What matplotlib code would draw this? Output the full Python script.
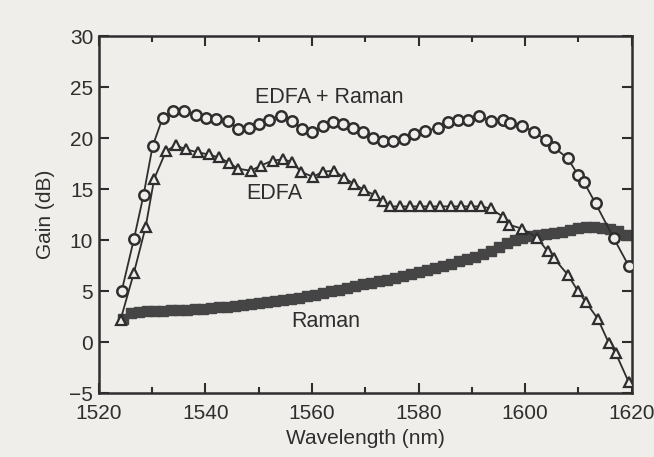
import matplotlib.pyplot as plt
import numpy as np

# EDFA + Raman (open circles)
wl_combined = [1524.3, 1526.6, 1528.4, 1530.1, 1532.0, 1533.9, 1535.9, 1538.2, 1540.1, 1542.0,
               1544.2, 1546.1, 1548.1, 1550.0, 1551.9, 1554.1, 1556.2, 1558.2, 1560.1, 1562.0,
               1563.9, 1565.8, 1567.7, 1569.5, 1571.4, 1573.3, 1575.2, 1577.2, 1579.1, 1581.3,
               1583.6, 1585.5, 1587.4, 1589.2, 1591.3, 1593.5, 1595.8, 1597.2, 1599.5, 1601.6,
               1603.9, 1605.4, 1608.0, 1609.9, 1611.0, 1613.2, 1616.6, 1619.4]
gain_combined = [5.0, 10.1, 14.4, 19.2, 22.0, 22.7, 22.7, 22.3, 22.0, 21.9,
                 21.7, 20.9, 21.0, 21.4, 21.8, 22.2, 21.7, 20.9, 20.6, 21.2,
                 21.6, 21.4, 21.0, 20.6, 20.0, 19.7, 19.7, 19.9, 20.4, 20.7,
                 21.0, 21.6, 21.8, 21.8, 22.2, 21.7, 21.8, 21.5, 21.2, 20.6,
                 19.8, 19.1, 18.0, 16.4, 15.7, 13.6, 10.2, 7.5]

# EDFA (open triangles)
wl_edfa = [1524.1, 1526.6, 1528.8, 1530.4, 1532.6, 1534.4, 1536.3, 1538.6, 1540.6, 1542.5,
           1544.4, 1546.1, 1548.5, 1550.4, 1552.6, 1554.5, 1556.2, 1557.9, 1560.2, 1562.0,
           1564.1, 1566.1, 1567.9, 1569.8, 1571.8, 1573.4, 1574.6, 1576.5, 1578.4, 1580.3,
           1582.2, 1584.1, 1586.0, 1587.9, 1589.8, 1591.7, 1593.5, 1595.8, 1597.0, 1599.5,
           1602.3, 1604.2, 1605.4, 1608.0, 1609.9, 1611.4, 1613.6, 1615.7, 1617.0, 1619.4]
gain_edfa = [2.2, 6.8, 11.3, 16.0, 18.7, 19.3, 18.9, 18.6, 18.4, 18.1,
             17.6, 17.0, 16.8, 17.3, 17.8, 17.9, 17.7, 16.7, 16.2, 16.7,
             16.8, 16.1, 15.5, 14.9, 14.4, 13.8, 13.3, 13.3, 13.3, 13.3,
             13.3, 13.3, 13.3, 13.3, 13.3, 13.3, 13.1, 12.3, 11.5, 11.1,
             10.2, 8.9, 8.2, 6.6, 5.0, 3.9, 2.3, -0.1, -1.1, -3.9]

# Raman (filled squares)
wl_raman = [1524.5, 1526, 1527.5, 1529, 1530.5, 1532, 1533.5, 1535, 1536.5, 1538,
            1539.5, 1541, 1542.5, 1544, 1545.5, 1547, 1548.5, 1550, 1551.5, 1553,
            1554.5, 1556, 1557.5, 1559, 1560.5, 1562, 1563.5, 1565, 1566.5, 1568,
            1569.5, 1571, 1572.5, 1574, 1575.5, 1577, 1578.5, 1580, 1581.5, 1583,
            1584.5, 1586, 1587.5, 1589, 1590.5, 1592, 1593.5, 1595, 1596.5, 1598,
            1599.5, 1601, 1602.5, 1604, 1605.5, 1607, 1608.5, 1610, 1611.5, 1613,
            1614.5, 1616, 1617.5, 1619]
gain_raman = [2.3, 2.8, 2.9, 3.0, 3.0, 3.0, 3.1, 3.1, 3.1, 3.2,
              3.2, 3.3, 3.4, 3.4, 3.5, 3.6, 3.7, 3.8, 3.9, 4.0,
              4.1, 4.2, 4.3, 4.5, 4.6, 4.8, 5.0, 5.1, 5.3, 5.5,
              5.7, 5.8, 6.0, 6.1, 6.3, 6.5, 6.7, 6.9, 7.1, 7.3,
              7.5, 7.7, 7.9, 8.1, 8.3, 8.6, 8.9, 9.3, 9.7, 10.0,
              10.2, 10.4, 10.5, 10.6, 10.7, 10.8, 11.0, 11.2, 11.3, 11.3,
              11.2, 11.1, 10.9, 10.5]

bg = '#efeeeb'
ink = '#2e2e2e'
plt.rcParams['font.family'] = ['Liberation Sans', 'DejaVu Sans']

fig = plt.figure(figsize=(6.54, 4.57), dpi=100, facecolor=bg)
ax = fig.add_axes([0.151, 0.140, 0.815, 0.781])
ax.set_facecolor(bg)

ax.plot(wl_raman, gain_raman, color='#454545', lw=1.2, marker='s', ms=6.5,
        mfc='#454545', mec='#454545', zorder=2)
ax.plot(wl_edfa, gain_edfa, color=ink, lw=1.3, marker='^', ms=7.5,
        mfc=bg, mec=ink, mew=1.6, zorder=3)
ax.plot(wl_combined, gain_combined, color=ink, lw=1.3, marker='o', ms=7.5,
        mfc=bg, mec=ink, mew=1.8, zorder=4)

ax.text(1563.3, 24.0, 'EDFA + Raman', fontsize=15.5, ha='center', va='center', color=ink)
ax.text(1553.0, 14.6, 'EDFA', fontsize=15.5, ha='center', va='center', color=ink)
ax.text(1562.6, 2.0, 'Raman', fontsize=15.5, ha='center', va='center', color=ink)

ax.set_xlim(1520, 1620)
ax.set_ylim(-5, 30)
ax.set_xticks(np.arange(1520, 1621, 20))
ax.set_xticks(np.arange(1530, 1620, 20), minor=True)
ax.set_yticks(np.arange(-5, 31, 5))
ax.tick_params(which='both', direction='in', top=True, right=True,
               colors=ink, labelsize=15, width=1.5)
ax.tick_params(axis='x', which='major', pad=8)
ax.tick_params(axis='y', which='major', pad=4)
ax.tick_params(which='major', length=7)
ax.tick_params(which='minor', length=4.5)
for s in ax.spines.values():
    s.set_linewidth(1.8)
    s.set_color(ink)

ax.set_xlabel('Wavelength (nm)', fontsize=15, color=ink, labelpad=4)
ax.set_ylabel('Gain (dB)', fontsize=15, color=ink, labelpad=10)

fig.savefig('out.png', dpi=100, facecolor=bg)
